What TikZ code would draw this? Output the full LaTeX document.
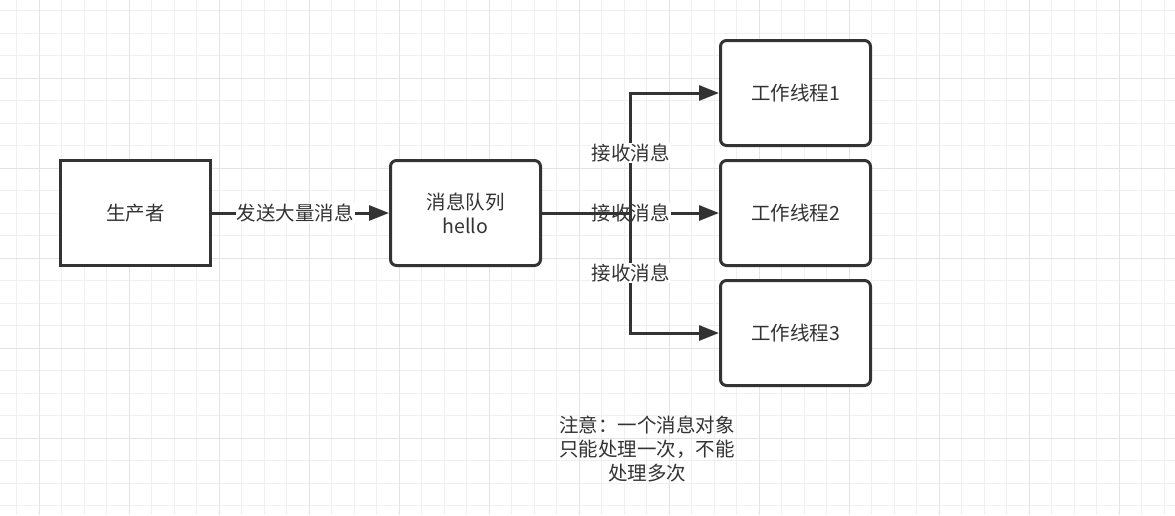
\documentclass[tikz,border=0pt]{standalone}
\usepackage{fontspec}
\setmainfont{Noto Sans CJK SC}
\usetikzlibrary{positioning,arrows.meta,calc}
\definecolor{GridMinor}{HTML}{F0F0F0}
\definecolor{GridMajor}{HTML}{E3E3E3}
\definecolor{InkGray}{HTML}{333333}

\begin{document}
\begin{tikzpicture}[x=1pt, y=-1pt,
  every node/.style={font=\fontsize{19.5}{24}\selectfont, align=center, text=InkGray},
  box/.style={draw=InkGray, line width=3pt, fill=white, minimum width=150pt, minimum height=105pt, inner sep=0pt},
  rbox/.style={box, rounded corners=6pt},
  flow/.style={draw=InkGray, line width=3pt, -{Triangle[length=20pt, width=15pt]}},
  lbl/.style={fill=white, inner sep=1pt}]
  \useasboundingbox[fill=white] (0,0) rectangle (1175,515);
  \foreach \gx in {0,...,51} \draw[GridMinor, line width=1pt] ({16.8+22.5*\gx},0) -- ++(0,515);
  \foreach \gy in {0,...,22} \draw[GridMinor, line width=1pt] (0,{10.8+22.5*\gy}) -- ++(1175,0);
  \foreach \gx in {0,...,12} \draw[GridMajor, line width=1pt] ({39.3+90*\gx},0) -- ++(0,515);
  \foreach \gy in {0,...,4} \draw[GridMajor, line width=1pt] (0,{78.3+90*\gy}) -- ++(1175,0);

  \node[box] (producer) at (135.5,213) {生产者};
  \node[rbox, right=177pt of producer] (queue) {消息队列\\hello};
  \node[rbox, right=177pt of queue] (worker2) {工作线程2};
  \node[rbox, above=12pt of worker2] (worker1) {工作线程1};
  \node[rbox, below=12pt of worker2] (worker3) {工作线程3};
  \node (note) at (647,449) {注意：一个消息对象\\只能处理一次，不能\\处理多次};
  \coordinate (split) at ($(queue.east)!0.5!(worker2.west)$);

  \draw[flow] (producer) -- node[lbl, pos=0.47] {发送大量消息} (queue);
  \draw[flow] (queue) -- node[lbl] {接收消息} (worker2);
  \draw[flow] (queue) -- (split) |- node[lbl, pos=0.25] {接收消息} (worker1);
  \draw[flow] (queue) -- (split) |- node[lbl, pos=0.25] {接收消息} (worker3);
\end{tikzpicture}
\end{document}
